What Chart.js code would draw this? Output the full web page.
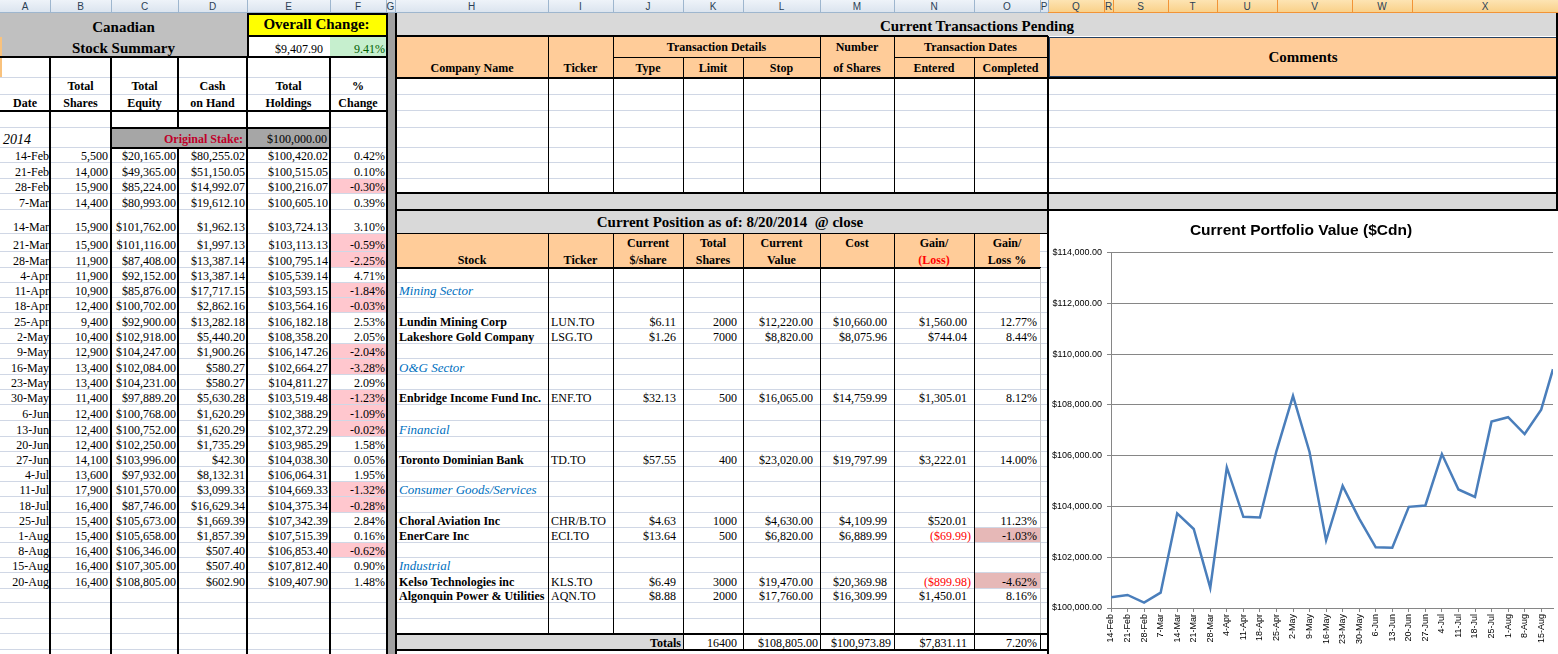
<!DOCTYPE html>
<html>
<head>
<meta charset="utf-8">
<title>Canadian Stock Summary</title>
<script src="https://cdn.jsdelivr.net/npm/chart.js@4.4.1/dist/chart.umd.min.js"></script>
<style>
  body { margin: 0; width: 1558px; height: 654px; overflow: hidden; background: #fff; position: relative;
         font-family: "Liberation Serif", "Times New Roman", serif; }
  #sheet div { position: absolute; box-sizing: border-box; }
  .c { display: flex; align-items: flex-end; white-space: pre; font-size: 12px; line-height: 14px; color: #000; }
  .hdr { font-family: "Liberation Sans", Arial, sans-serif; font-size: 10px; color: #2b3f55;
         display: flex; align-items: center; justify-content: center; }
  #chartBox { position: absolute; left: 1049px; top: 211px; width: 509px; height: 443px; background: #fff; }
</style>
</head>
<body>
<div id="sheet"></div>
<div id="chartBox"><canvas id="portfolioChart" width="509" height="443"></canvas></div>
<script>
// ---- weekly summary (left table, also feeds the chart) ----
const weekDates = ["14-Feb","21-Feb","28-Feb","7-Mar","14-Mar","21-Mar","28-Mar","4-Apr","11-Apr","18-Apr",
  "25-Apr","2-May","9-May","16-May","23-May","30-May","6-Jun","13-Jun","20-Jun","27-Jun","4-Jul","11-Jul",
  "18-Jul","25-Jul","1-Aug","8-Aug","15-Aug","20-Aug"];
const totalShares = [5500,14000,15900,14400,15900,15900,11900,11900,10900,12400,9400,10400,12900,13400,
  13400,11400,12400,12400,12400,14100,13600,17900,16400,15400,15400,16400,16400,16400];
const totalEquity = [20165.00,49365.00,85224.00,80993.00,101762.00,101116.00,87408.00,92152.00,85876.00,
  100702.00,92900.00,102918.00,104247.00,102084.00,104231.00,97889.20,100768.00,100752.00,102250.00,
  103996.00,97932.00,101570.00,87746.00,105673.00,105658.00,106346.00,107305.00,108805.00];
const cashOnHand = [80255.02,51150.05,14992.07,19612.10,1962.13,1997.13,13387.14,13387.14,17717.15,2862.16,
  13282.18,5440.20,1900.26,580.27,580.27,5630.28,1620.29,1620.29,1735.29,42.30,8132.31,3099.33,16629.34,
  1669.39,1857.39,507.40,507.40,602.90];
const totalHoldings = [100420.02,100515.05,100216.07,100605.10,103724.13,103113.13,100795.14,105539.14,
  103593.15,103564.16,106182.18,108358.20,106147.26,102664.27,104811.27,103519.48,102388.29,102372.29,
  103985.29,104038.30,106064.31,104669.33,104375.34,107342.39,107515.39,106853.40,107812.40,109407.90];
const pctChange = [0.42,0.10,-0.30,0.39,3.10,-0.59,-2.25,4.71,-1.84,-0.03,2.53,2.05,-2.04,-3.28,2.09,-1.23,
  -1.09,-0.02,1.58,0.05,1.95,-1.32,-0.28,2.84,0.16,-0.62,0.90,1.48];

// chart axis
const xTickLabels = ["14-Feb","21-Feb","28-Feb","7-Mar","14-Mar","21-Mar","28-Mar","4-Apr","11-Apr","18-Apr",
  "25-Apr","2-May","9-May","16-May","23-May","30-May","6-Jun","13-Jun","20-Jun","27-Jun","4-Jul","11-Jul",
  "18-Jul","25-Jul","1-Aug","8-Aug","15-Aug"];
const yMin = 100000, yMax = 114000, yStep = 2000;

// ---- current position table ----
const sectorNames = ["Mining Sector","O&G Sector","Financial","Consumer Goods/Services","Industrial"];
const stockNames = ["Lundin Mining Corp","Lakeshore Gold Company","Enbridge Income Fund Inc.","Toronto Dominian Bank",
  "Choral Aviation Inc","EnerCare Inc","Kelso Technologies inc","Algonquin Power & Utilities"];
const stockTickers = ["LUN.TO","LSG.TO","ENF.TO","TD.TO","CHR/B.TO","ECI.TO","KLS.TO","AQN.TO"];
const pricePerShare = [6.11,1.26,32.13,57.55,4.63,13.64,6.49,8.88];
const sharesHeld = [2000,7000,500,400,1000,500,3000,2000];
const currentValue = [12220.00,8820.00,16065.00,23020.00,4630.00,6820.00,19470.00,17760.00];
const costBasis = [10660.00,8075.96,14759.99,19797.99,4109.99,6889.99,20369.98,16309.99];
const gainLoss = [1560.00,744.04,1305.01,3222.01,520.01,-69.99,-899.98,1450.01];
const gainLossPct = [12.77,8.44,8.12,14.00,11.23,-1.03,-4.62,8.16];

// sheet geometry
const ROWS = [0,13,36,57,78,95,111,128,148,163,179,194,210,234,252,268,283,298,313,329,344,359,375,390,405,
  421,437,452,467,482,497,513,528,543,558,573,589,603,619,634,650,666];
const COLS = [["A",0,50],["B",50,111],["C",111,178],["D",178,247],["E",247,330],["F",330,386],["G",386,395],
  ["H",395,548],["I",548,613],["J",613,683],["K",683,743],["L",743,820],["M",820,894],["N",894,974],
  ["O",974,1040],["P",1040,1048],["Q",1048,1104],["R",1104,1113],["S",1113,1168],["T",1168,1217],
  ["U",1217,1277],["V",1277,1352],["W",1352,1412],["X",1412,1558]];
const sectorRows = [16,21,25,29,34];
const stockRows = [18,19,23,27,31,32,35,36];

function money(v) {
  const s = Math.abs(v).toFixed(2).replace(/\B(?=(\d{3})+(?!\d))/g, ",");
  return v < 0 ? "($" + s + ")" : "$" + s;
}
function count(v) { return String(v).replace(/\B(?=(\d{3})+(?!\d))/g, ","); }

const sheet = document.getElementById("sheet");
function box(x, y, w, h, css) {
  const d = document.createElement("div");
  d.style.cssText = `left:${x}px;top:${y}px;width:${w}px;height:${h}px;` + (css || "");
  sheet.appendChild(d);
  return d;
}
function fill(x1, x2, y1, y2, color) { return box(x1, y1, x2 - x1, y2 - y1, "background:" + color); }
function hline(x1, x2, y, t, color) { box(x1, y - Math.floor(t / 2), x2 - x1, t, "background:" + (color || "#000")); }
function vline(x, y1, y2, t, color) { box(x - Math.floor(t / 2), y1, t, y2 - y1, "background:" + (color || "#000")); }
function text(x1, x2, r1, r2, str, o = {}) {
  const y1 = ROWS[r1], y2 = ROWS[r2 + 1];
  const d = box(x1, y1, x2 - x1, y2 - y1, "");
  d.className = "c";
  d.style.justifyContent = { l: "flex-start", c: "center", r: "flex-end" }[o.align || "r"];
  if (o.mid) d.style.alignItems = "center";
  d.style.paddingRight = (o.pr ?? 2) + "px";
  d.style.paddingLeft = (o.pl ?? 2) + "px";
  d.style.paddingBottom = (o.pb ?? 0) + "px";
  if (o.bold) d.style.fontWeight = "bold";
  if (o.italic) d.style.fontStyle = "italic";
  if (o.color) d.style.color = o.color;
  if (o.size) { d.style.fontSize = o.size + "px"; d.style.lineHeight = (o.size + 2) + "px"; }
  d.textContent = str;
}
const col = (k) => COLS.find(c => c[0] === k);
const X1 = (k) => col(k)[1], X2 = (k) => col(k)[2];

// column header strip
fill(0, 1048, 0, 13, "linear-gradient(#eef3f9,#dae3ee)");
fill(1048, 1558, 0, 13, "linear-gradient(#fde4b3,#f9cf86)");
COLS.forEach(([k, a, b]) => {
  const d = box(a, 0, b - a, 13, "");
  d.className = "hdr";
  d.textContent = k;
  vline(b, 0, 13, 1, a >= 1048 ? "#f29436" : "#9eb6ce");
});
hline(0, 1048, 12, 1, "#9eb6ce");
hline(1048, 1558, 12, 1, "#f29436");

// gridlines
for (let r = 3; r < ROWS.length; r++) hline(0, 1558, ROWS[r] - 1, 1, "#d0d7e5");

// fills
fill(0, 247, 13, 57, "#c0c0c0");
fill(0, 2, 37, 77, "#f9c27d");
fill(247, 386, 13, 36, "#ffff00");
fill(247, 330, 36, 57, "#fff");
fill(330, 386, 36, 57, "#c6efce");
fill(386, 395, 13, 654, "#a0a0a0");
fill(111, 330, 128, 148, "#a6a6a6");
pctChange.forEach((p, i) => { if (p < 0) fill(331, 386, ROWS[8 + i], ROWS[9 + i] - 1, "#ffc7ce"); });
fill(396, 1558, 13, 36, "#d9d9d9");
fill(397, 1047, 37, 78, "#ffcc99");
box(1049, 37, 508, 40, "background:#ffcc99;border:1px solid #243f60");
fill(397, 1558, 194, 210, "#d9d9d9");
fill(397, 1047, 211, 234, "#d9d9d9");
fill(397, 1040, 234, 268, "#ffcc99");
gainLossPct.forEach((p, i) => { if (p < 0) fill(975, 1040, ROWS[stockRows[i]], ROWS[stockRows[i] + 1] - 1, "#e6b8b7"); });
fill(397, 683, 634, 650, "#d9d9d9");

// left table borders
hline(247, 388, 14, 2); hline(247, 388, 36, 2); vline(248, 14, 57, 2);
hline(0, 388, 57, 2); hline(0, 388, 111, 2);
[50, 111, 247, 330].forEach(x => vline(x, 57, 654, 2));
vline(178, 57, 128, 2); vline(178, 148, 654, 2);
vline(387, 13, 654, 2);
hline(111, 331, 128, 2); hline(111, 331, 148, 2);

// transactions table borders
vline(396, 13, 654, 2);
hline(396, 1048, 36, 2);
hline(396, 1558, 78, 2);
hline(613, 820, 57, 1); hline(894, 1047, 57, 1);
[548, 613, 820, 894].forEach(x => vline(x, 37, 193, 1));
[683, 743, 974].forEach(x => vline(x, 57, 193, 1));
vline(1048, 36, 211, 2);
vline(1557, 13, 211, 2);
hline(396, 1558, 193, 2); hline(396, 1558, 210, 2);

// current position borders
hline(396, 1048, 233, 1);
hline(396, 1041, 268, 2);
[548, 613].forEach(x => vline(x, 234, 634, 1));
[683, 743, 820, 894, 974].forEach(x => vline(x, 234, 650, 1));
vline(1040, 268, 634, 1, "#c0c0c0"); vline(1040, 634, 650, 1);
hline(396, 1048, 634, 2); hline(396, 1048, 650, 2);
vline(1048, 210, 654, 2);

// left table text
text(0, 247, 1, 1, "Canadian", { align: "c", bold: true, size: 15 });
text(0, 247, 2, 2, "Stock Summary", { align: "c", bold: true, size: 15 });
text(247, 386, 1, 1, "Overall Change:", { align: "c", bold: true, size: 15, mid: true });
text(247, 330, 2, 2, "$9,407.90", { pr: 7, pb: 1 });
text(330, 386, 2, 2, "9.41%", { color: "#006100", pr: 1, pb: 1 });
[["B","Total","Shares"],["C","Total","Equity"],["D","Cash","on Hand"],["E","Total","Holdings"],["F","%","Change"]]
  .forEach(([k, a, b]) => {
    text(X1(k), X2(k), 4, 4, a, { align: "c", bold: true, pb: 2 });
    text(X1(k), X2(k), 5, 5, b, { align: "c", bold: true, pb: 1 });
  });
text(0, 50, 5, 5, "Date", { align: "c", bold: true, pb: 1 });
text(0, 60, 7, 7, "2014", { align: "l", italic: true, size: 14, pl: 3 });
text(111, 247, 7, 7, "Original Stake:", { bold: true, color: "#c0002a", pr: 4, pb: 2 });
text(247, 330, 7, 7, "$100,000.00", { pr: 3, pb: 2 });
weekDates.forEach((d, i) => {
  const r = 8 + i;
  text(0, 50, r, r, d, { pr: 1 });
  text(50, 111, r, r, count(totalShares[i]), { pr: 3 });
  text(111, 178, r, r, money(totalEquity[i]), { pr: 2 });
  text(178, 247, r, r, money(cashOnHand[i]), { pr: 2 });
  text(247, 330, r, r, money(totalHoldings[i]), { pr: 2 });
  text(330, 386, r, r, pctChange[i].toFixed(2) + "%", { pr: 1 });
});

// transactions header text
text(396, 1558, 1, 1, "Current Transactions Pending", { align: "c", bold: true, size: 15, pb: 1 });
text(396, 548, 3, 3, "Company Name", { align: "c", bold: true, mid: true });
text(548, 613, 3, 3, "Ticker", { align: "c", bold: true, mid: true });
text(613, 820, 2, 2, "Transaction Details", { align: "c", bold: true, mid: true });
text(613, 683, 3, 3, "Type", { align: "c", bold: true, mid: true });
text(683, 743, 3, 3, "Limit", { align: "c", bold: true, mid: true });
text(743, 820, 3, 3, "Stop", { align: "c", bold: true, mid: true });
text(820, 894, 2, 2, "Number", { align: "c", bold: true, mid: true });
text(820, 894, 3, 3, "of Shares", { align: "c", bold: true, mid: true });
text(894, 1047, 2, 2, "Transaction Dates", { align: "c", bold: true, mid: true });
text(894, 974, 3, 3, "Entered", { align: "c", bold: true, mid: true });
text(974, 1047, 3, 3, "Completed", { align: "c", bold: true, mid: true });
text(1048, 1558, 2, 3, "Comments", { align: "c", bold: true, size: 15, mid: true });

// current position text
text(396, 1064, 12, 12, "Current Position as of: 8/20/2014  @ close", { align: "c", bold: true, size: 15, mid: true });
text(396, 548, 14, 14, "Stock", { align: "c", bold: true, mid: true });
text(548, 613, 14, 14, "Ticker", { align: "c", bold: true, mid: true });
[["J","Current","$/share"],["K","Total","Shares"],["L","Current","Value"],["M","Cost",""],["N","Gain/","(Loss)"],["O","Gain/","Loss %"]]
  .forEach(([k, a, b]) => {
    text(X1(k), X2(k), 13, 13, a, { align: "c", bold: true, mid: true });
    if (b) text(X1(k), X2(k), 14, 14, b, { align: "c", bold: true, mid: true, color: k === "N" ? "#ff0000" : "#000" });
  });
sectorNames.forEach((s, i) => text(396, 700, sectorRows[i], sectorRows[i], s, { align: "l", italic: true, size: 13, color: "#0070c0", pl: 3 }));
stockNames.forEach((s, i) => {
  const r = stockRows[i];
  text(396, 560, r, r, s, { align: "l", bold: true, pl: 3 });
  text(548, 613, r, r, stockTickers[i], { align: "l", pl: 3 });
  text(613, 683, r, r, money(pricePerShare[i]), { pr: 7 });
  text(683, 743, r, r, String(sharesHeld[i]), { pr: 6 });
  text(743, 820, r, r, money(currentValue[i]), { pr: 7 });
  text(820, 894, r, r, money(costBasis[i]), { pr: 7 });
  text(894, 974, r, r, money(gainLoss[i]), { pr: gainLoss[i] < 0 ? 3 : 7, color: gainLoss[i] < 0 ? "#ff0000" : "#000" });
  text(974, 1040, r, r, gainLossPct[i].toFixed(2) + "%", { pr: 3 });
});
const sum = (a) => a.reduce((s, v) => s + v, 0);
text(613, 683, 39, 39, "Totals", { bold: true, pr: 2 });
text(683, 743, 39, 39, String(sum(sharesHeld)), { pr: 6 });
text(743, 820, 39, 39, money(sum(currentValue)), { pr: 2 });
text(820, 894, 39, 39, money(sum(costBasis)), { pr: 3 });
text(894, 974, 39, 39, money(sum(gainLoss)), { pr: 7 });
text(974, 1040, 39, 39, (sum(gainLoss) / sum(currentValue) * 100).toFixed(2) + "%", { pr: 3 });

// ---- chart ----
const MONTHS = { Jan: 0, Feb: 1, Mar: 2, Apr: 3, May: 4, Jun: 5, Jul: 6, Aug: 7, Sep: 8, Oct: 9, Nov: 10, Dec: 11 };
function dayNumber(label) {
  const [d, m] = label.split("-");
  return Date.UTC(2014, MONTHS[m], +d) / 86400000;
}
const startDay = dayNumber(weekDates[0]);
const points = weekDates.map((d, i) => ({ x: dayNumber(d) - startDay, y: totalHoldings[i] }));

Chart.defaults.font.family = "'Liberation Sans', Arial, sans-serif";
Chart.defaults.color = "#000";

new Chart(document.getElementById("portfolioChart"), {
  type: "line",
  data: {
    datasets: [{
      data: points,
      borderColor: "#4a7ebb",
      borderWidth: 2.5,
      pointRadius: 0,
      tension: 0,
      fill: false,
    }],
  },
  options: {
    responsive: false,
    animation: false,
    layout: { padding: { left: 0, right: 5, top: 0, bottom: 0 } },
    plugins: {
      legend: { display: false },
      tooltip: { enabled: false },
      title: {
        display: true,
        text: "Current Portfolio Value ($Cdn)",
        color: "#000",
        font: { size: 15.5, weight: "bold" },
        padding: { top: 10, bottom: 13 },
      },
    },
    scales: {
      x: {
        type: "linear",
        min: 0,
        max: points[points.length - 1].x,
        afterFit: (s) => { s.height = 46; },
        border: { color: "#868686" },
        grid: { drawOnChartArea: false, tickLength: 4, color: "#868686" },
        ticks: {
          stepSize: 7,
          includeBounds: false,
          autoSkip: false,
          minRotation: 90,
          maxRotation: 90,
          padding: 2,
          font: { size: 9 },
          callback: (v) => xTickLabels[v / 7] ?? "",
        },
      },
      y: {
        min: yMin,
        max: yMax,
        afterFit: (s) => { s.width = 62; },
        border: { color: "#868686" },
        grid: { color: "#868686", tickLength: 4 },
        ticks: {
          stepSize: yStep,
          padding: 5,
          font: { size: 9 },
          callback: (v) => money(v),
        },
      },
    },
  },
});
</script>
</body>
</html>
